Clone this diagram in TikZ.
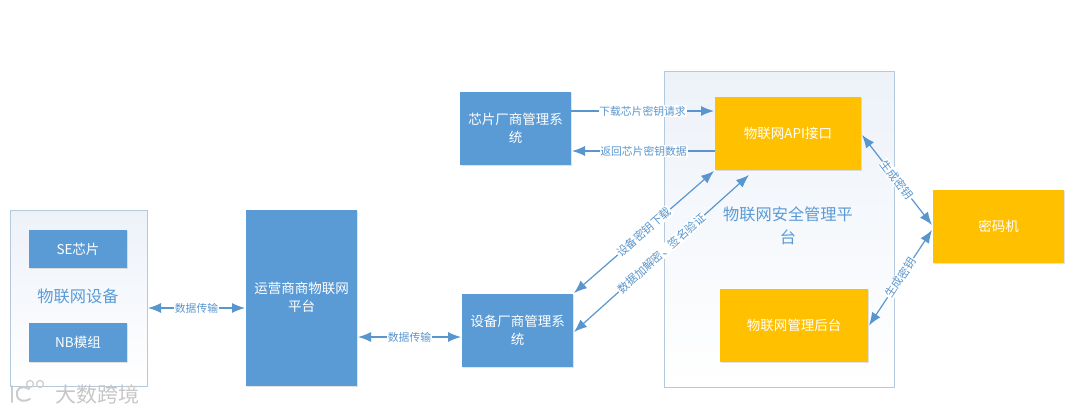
\documentclass[tikz,border=0pt]{standalone}
\usepackage{fontspec}
\setmainfont{Noto Sans CJK SC}
\usetikzlibrary{arrows.meta,positioning,shadows}
\definecolor{boxblue}{HTML}{5B9BD5}
\definecolor{boxgold}{HTML}{FFC000}
\definecolor{linkblue}{HTML}{5A96CE}
\definecolor{panelline}{HTML}{B5C9DE}
\definecolor{paneltop}{HTML}{EDF2F9}

\begin{document}
\begin{tikzpicture}[x=1pt,y=-1pt,outer sep=0pt,
  panel/.style={draw=panelline,line width=1pt,top color=paneltop,middle color=white,bottom color=white,inner sep=0pt},
  box/.style={fill=boxblue,text=white,align=center,inner sep=0pt,font=\fontsize{13.5}{18}\selectfont,
    drop shadow={opacity=.22,shadow xshift=.8pt,shadow yshift=-.8pt}},
  goldbox/.style={box,fill=boxgold},
  paneltext/.style={text=boxblue,align=center,font=\fontsize{16.2}{23}\selectfont},
  link/.style={draw=linkblue,line width=1.2pt,{Latex[length=13pt,width=10pt]}-{Latex[length=13pt,width=10pt]}},
  onelink/.style={draw=linkblue,line width=1.2pt,-{Latex[length=13pt,width=10pt]}},
  tag/.style={text=linkblue,fill=white,inner sep=.8pt,font=\fontsize{10.8}{12}\selectfont},
  slopetag/.style={tag,sloped,font=\fontsize{11.3}{12}\selectfont}]
\useasboundingbox (0,0) rectangle (1080,412);

% panels
\node[panel,minimum width=137pt,minimum height=176pt] (iotdev) at (78.5,298) {};
\node[panel,minimum width=230pt,minimum height=315pt] (secplat) at (779,229.5) {};

% left side
\node[box,minimum width=98pt,minimum height=38pt] (sechip) at (78,249) {SE芯片};
\node[box,minimum width=98pt,minimum height=39pt] (nbmod) at (78,342.5) {NB模组};
\node[paneltext] (iotlabel) at (78,296) {物联网设备};
\node[box,minimum width=111pt,minimum height=176pt,right=99pt of iotdev] (carrier) {};
\node[text=white,align=center,font=\fontsize{13.5}{18}\selectfont] (carriertext) at (301.5,297) {运营商商物联网\\平台};

% vendors
\node[box,minimum width=111pt,minimum height=73pt] (chipvendor) at (515.5,128.5) {芯片厂商管理系\\统};
\node[box,minimum width=111pt,minimum height=73pt] (devvendor) at (517.5,330.5) {设备厂商管理系\\统};

% gold boxes
\node[goldbox,minimum width=146pt,minimum height=73pt] (apiport) at (788,133.5) {物联网API接口};
\node[goldbox,minimum width=148pt,minimum height=73pt] (backend) at (794,325.5) {物联网管理后台};
\node[goldbox,minimum width=131pt,minimum height=73pt] (cipher) at (998.5,226.5) {密码机};
\node[paneltext] (seclabel) at (788,226) {物联网安全管理平\\台};

% links
\draw[link] ([xshift=1pt,yshift=-10pt]iotdev.east) -- node[tag]{数据传输} ([xshift=-1pt,yshift=-10pt]carrier.west);
\draw[link] ([xshift=1pt,yshift=-39pt]carrier.east) -- node[tag]{数据传输} ([xshift=-1pt,yshift=-6.5pt]devvendor.west);
\draw[onelink] ([yshift=17.5pt]chipvendor.east) -- node[tag]{下载芯片密钥请求} ([yshift=22.5pt,xshift=-1pt]apiport.west);
\draw[onelink] ([yshift=-17.5pt]apiport.west) -- node[tag]{返回芯片密钥数据} ([yshift=-22.5pt,xshift=1pt]chipvendor.east);
\draw[link] ([xshift=1pt,yshift=1pt]devvendor.north east) -- node[slopetag]{设备密钥下载} ([xshift=-1pt,yshift=-1pt]apiport.south west);
\draw[link] ([xshift=1pt,yshift=-1.5pt]devvendor.east) -- node[slopetag]{数据加解密、签名验证} ([xshift=34pt,yshift=-5pt]apiport.south west);
\draw[link] ([xshift=1pt,yshift=-1.5pt]apiport.east) -- node[slopetag]{生成密钥} ([xshift=-1pt,yshift=1.5pt]cipher.west);
\draw[link] ([xshift=1pt]backend.east) -- node[slopetag]{生成密钥} ([xshift=-1pt,yshift=-3.5pt]cipher.west);

% watermark
\draw[gray!40,line width=2pt,line cap=round] (29,389) .. controls (20,384) and (16,390) .. (17,395) .. controls (18,402) and (25,402) .. (30,399);
\draw[gray!40,line width=1.2pt] (30,384) circle (3.5pt) (40,384) circle (3.5pt);
\draw[gray!40,line width=2pt,line cap=round] (12,386) -- (12,402);
\node[text=gray!45,font=\fontsize{21}{24}\selectfont] (mark) at (98,394) {大数跨境};
\end{tikzpicture}
\end{document}
